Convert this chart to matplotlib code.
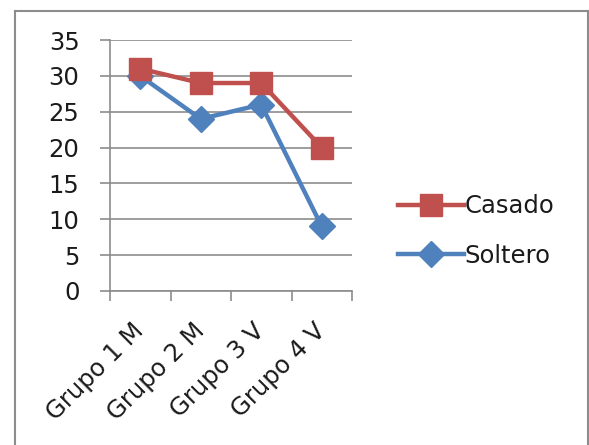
import matplotlib
matplotlib.use("Agg")
import matplotlib.pyplot as plt
from matplotlib.lines import Line2D
import numpy as np

categories = ["Grupo 1 M", "Grupo 2 M", "Grupo 3 V", "Grupo 4 V"]
casado = [31, 29, 29, 20]
soltero = [30, 24, 26, 9]
yticks = [0, 5, 10, 15, 20, 25, 30, 35]

plt.rcParams['font.family'] = ['DejaVu Sans']

W, H = 589, 445
fig = plt.figure(figsize=(W/100, H/100), dpi=100)
fig.patch.set_facecolor('white')

# outer border (chart area)
bx0, by0 = 15/W, 1 - 11/H
fig.add_artist(Line2D([bx0, bx0], [by0, -0.05], transform=fig.transFigure, color='#8c8c8c', lw=1.5))
fig.add_artist(Line2D([bx0, 1 - 1/W], [by0, by0], transform=fig.transFigure, color='#8c8c8c', lw=1.5))
fig.add_artist(Line2D([1 - 1/W, 1 - 1/W], [by0, -0.05], transform=fig.transFigure, color='#8c8c8c', lw=1.5))

left, right, top, bottom = 110, 352, 40, 291
ax = fig.add_axes([left/W, 1 - bottom/H, (right-left)/W, (bottom-top)/H])

x = np.arange(len(categories))
ax.plot(x, casado, color='#C0504D', lw=3.2, marker='s', markersize=16, label='Casado', zorder=3)
ax.plot(x, soltero, color='#4F81BD', lw=3.2, marker='D', markersize=13, label='Soltero', zorder=2)

FS = 17.5
ax.set_xlim(-0.5, 3.5)
ax.set_ylim(0, 35)
ax.set_yticks(yticks)
ax.set_yticklabels([str(v) for v in yticks], fontsize=FS, color='#1a1a1a')
ax.yaxis.grid(True, color='#8c8c8c', lw=1.2)
ax.set_axisbelow(True)

ax.set_xticks(np.arange(-0.5, 4.0, 1.0))
ax.set_xticklabels([])
ax.set_xticks(x, minor=True)
ax.set_xticklabels(categories, minor=True, rotation=45, ha='right', va='center',
                   rotation_mode='anchor', fontsize=FS, color='#1a1a1a')
ax.tick_params(axis='x', which='minor', length=0, pad=26)
ax.tick_params(axis='x', which='major', length=7, color='#8c8c8c', width=1.2)
ax.tick_params(axis='y', length=7, color='#8c8c8c', width=1.2, pad=15)

for s in ['top', 'right']:
    ax.spines[s].set_visible(False)
for s in ['left', 'bottom']:
    ax.spines[s].set_color('#8c8c8c')
    ax.spines[s].set_linewidth(1.2)

leg = fig.legend(loc='center left', bbox_to_anchor=(376/W, 1 - 231/H), frameon=False,
                 fontsize=FS, handlelength=2.7, handletextpad=0.05, labelspacing=1.05)
for t in leg.get_texts():
    t.set_color('#1a1a1a')

fig.savefig('out.png', dpi=100, facecolor='white')
